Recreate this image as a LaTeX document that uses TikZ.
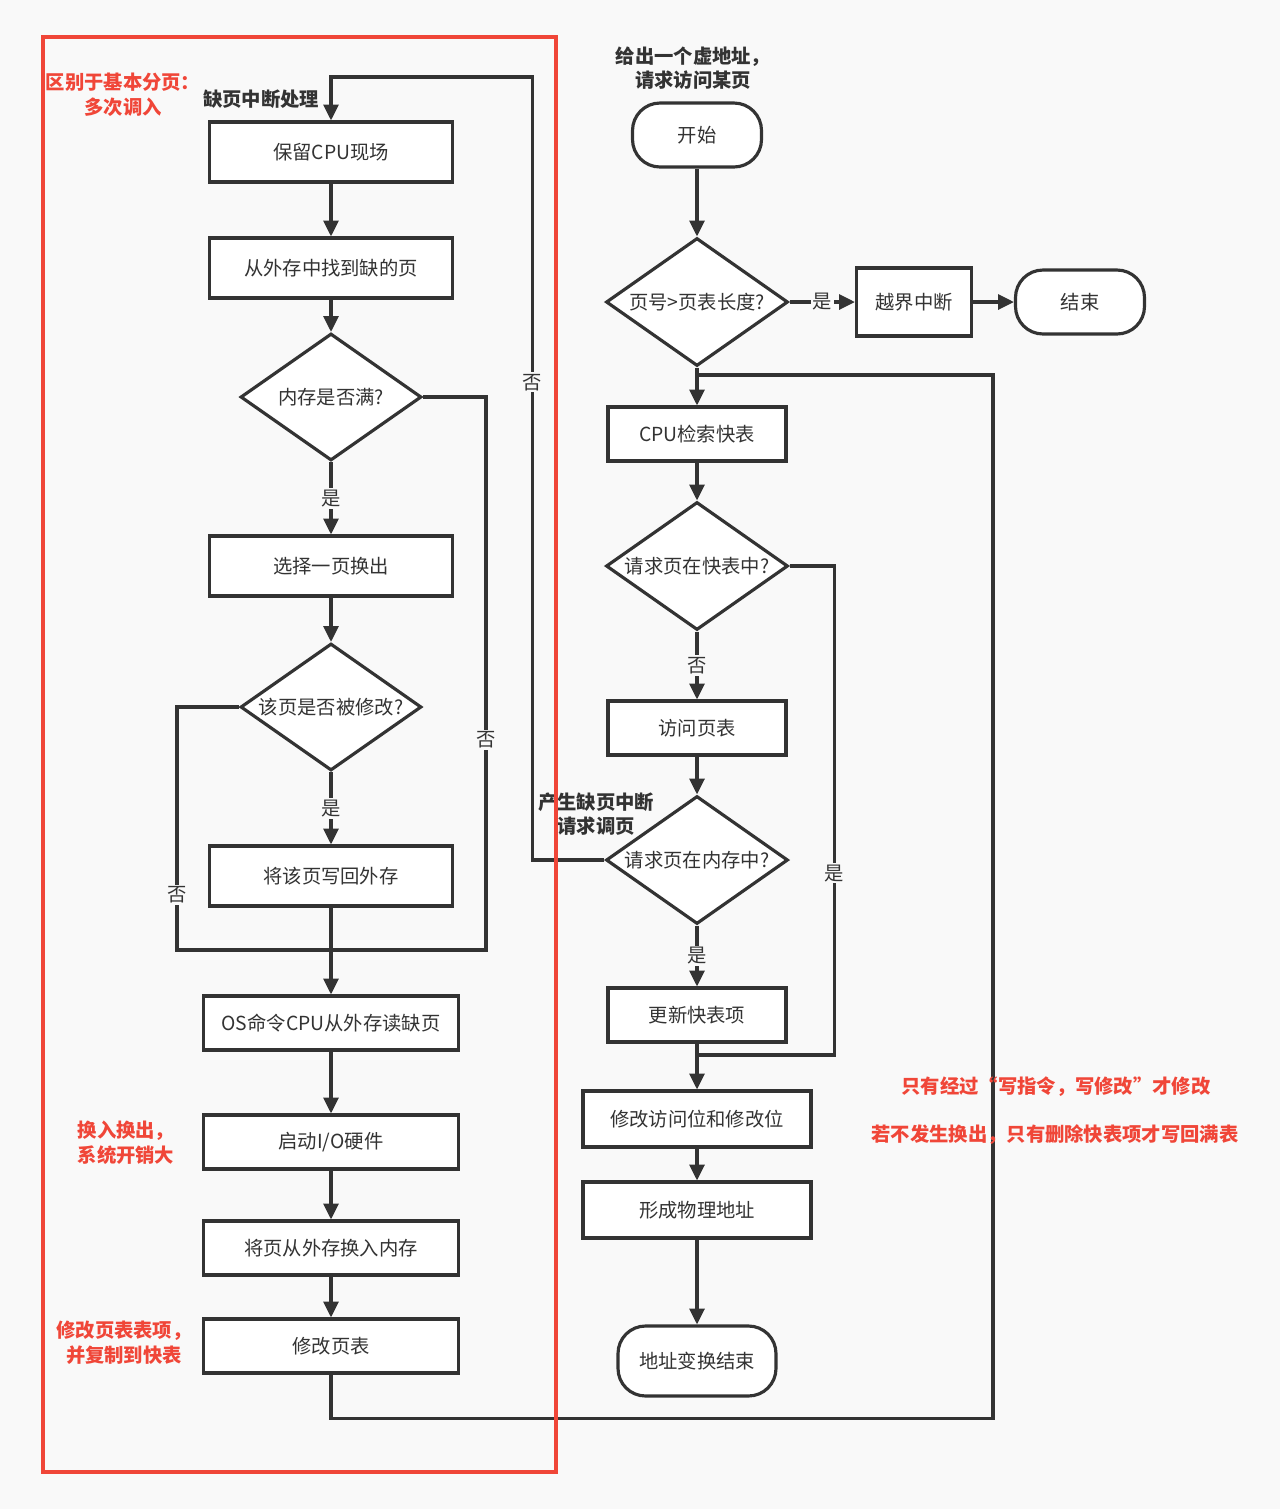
\documentclass[tikz,border=0pt]{standalone}
\usepackage{fontspec}
\setmainfont{Noto Sans CJK SC}
\usepackage{color}
\definecolor{myline}{RGB}{51,51,51}
\definecolor{myred}{RGB}{240,70,56}
\definecolor{mybg}{RGB}{249,249,249}
\usepackage{tikz}
\usetikzlibrary{shapes.geometric,arrows.meta,positioning,calc}
\tikzstyle{stepbox}=[draw=myline,fill=white,rectangle,line width=1.8pt,text=myline,inner sep=0pt,minimum width=4.86cm,minimum height=1.2cm]
\tikzstyle{widebox}=[stepbox,minimum width=5.1cm,minimum height=1.08cm]
\tikzstyle{rbox}=[stepbox,minimum width=3.56cm,minimum height=1.08cm]
\tikzstyle{choice}=[draw=myline,fill=white,diamond,line width=1.8pt,text=myline,inner sep=0pt,aspect=1.4,minimum width=3.62cm,minimum height=2.54cm]
\tikzstyle{terminal}=[draw=myline,fill=white,rectangle,rounded corners=0.55cm,line width=1.8pt,text=myline,minimum width=2.58cm,minimum height=1.28cm]
\tikzstyle{line}=[draw=myline,line width=1.8pt]
\tikzstyle{flow}=[line,-{Triangle[length=9pt,width=8.5pt]}]
\tikzstyle{linelabel}=[fill=mybg,text=myline,inner sep=1pt]
\tikzstyle{note}=[text=myred,font=\bfseries\fontsize{11}{14}\selectfont,align=center]
\tikzstyle{tag}=[text=myline,font=\bfseries\fontsize{11}{14}\selectfont,align=center]

\begin{document}
\begin{tikzpicture}[x=0.02cm,y=-0.02cm,font=\fontsize{11}{14}\selectfont]
\fill[mybg] (0,0) rectangle (1280,1509);
\useasboundingbox (0,0) rectangle (1280,1509);

% page fault handling
\node [stepbox] (keep) at (331,152) {保留CPU现场};
\node [stepbox] (find) at (331,268) {从外存中找到缺的页};
\node [choice] (full) at (331,397) {内存是否满?};
\node [stepbox] (pick) at (331,566) {选择一页换出};
\node [choice] (dirty) at (331,707) {该页是否被修改?};
\node [stepbox] (wback) at (331,876) {将该页写回外存};
\node [widebox] (osread) at (331,1023) {OS命令CPU从外存读缺页};
\node [widebox] (io) at (331,1142) {启动I/O硬件};
\node [widebox] (swapin) at (331,1248) {将页从外存换入内存};
\node [widebox] (modpt) at (331,1346) {修改页表};
\coordinate (mj) at (331,950);
\coordinate (topc) at (331,77);

% address translation
\node [terminal] (start) at (697,135) {开始};
\node [choice,minimum width=3.64cm,minimum height=2.56cm] (len) at (697,302) {页号>页表长度?};
\node [stepbox,minimum width=2.3cm,minimum height=1.36cm] (oob) at (914,302) {越界中断};
\node [terminal] (stop) at (1080,302) {结束};
\node [rbox] (cpu) at (697,434) {CPU检索快表};
\node [choice,minimum width=3.64cm,minimum height=2.56cm] (intlb) at (697,566) {请求页在快表中?};
\node [rbox] (pagetab) at (697,728) {访问页表};
\node [choice,minimum width=3.64cm,minimum height=2.56cm] (inmem) at (697,860) {请求页在内存中?};
\node [rbox] (update) at (697,1015) {更新快表项};
\node [stepbox,minimum width=4.56cm,minimum height=1.12cm] (modbit) at (697,1119) {修改访问位和修改位};
\node [stepbox,minimum width=4.56cm,minimum height=1.12cm] (phys) at (697,1210) {形成物理地址};
\node [terminal,minimum width=3.16cm,minimum height=1.4cm] (done) at (697,1361) {地址变换结束};
\coordinate (ret) at (993,375);
\coordinate (back) at (697,375);
\coordinate (upd) at (697,1055);

\draw [flow] (keep) -- (find);
\draw [flow] (find) -- (full);
\draw [flow] (full) -- node [linelabel] {是} (pick);
\draw [flow] (pick) -- (dirty);
\draw [flow] (dirty) -- node [linelabel] {是} (wback);
\draw [line] (full.east) -- ++(63,0) |- node [linelabel,pos=0.31] {否} (mj);
\draw [line] (dirty.west) -- ++(-62,0) |- node [linelabel,pos=0.387] {否} (mj);
\draw [line] (wback) -- (mj);
\draw [flow] (mj) -- (osread);
\draw [flow] (osread) -- (io);
\draw [flow] (io) -- (swapin);
\draw [flow] (swapin) -- (modpt);
\draw [line] (modpt.south) -- ++(0,44) -| (ret) -- (back);

\draw [flow] (start) -- (len);
\draw [flow] (len) -- node [linelabel] {是} (oob);
\draw [flow] (oob) -- (stop);
\draw [flow] (len) -- (cpu);
\draw [flow] (cpu) -- (intlb);
\draw [flow] (intlb) -- node [linelabel] {否} (pagetab);
\draw [flow] (pagetab) -- (inmem);
\draw [flow] (inmem) -- node [linelabel] {是} (update);
\draw [line] (intlb.east) -- ++(45,0) |- node [linelabel,pos=0.314] {是} (upd);
\draw [flow] (update) -- (modbit);
\draw [flow] (modbit) -- (phys);
\draw [flow] (phys) -- (done);
\draw [flow] (inmem.west) -- ++(-72,0) |- node [linelabel,pos=0.305] {否} (topc) -- (keep.north);

\node [tag] (given) at (693,68) {给出一个虚地址，\\请求访问某页};
\node [tag] (pf) at (261,99) {缺页中断处理};
\node [tag,inner sep=0pt] (raise) at (596,814) {产生缺页中断\\请求调页};

\draw [myred,line width=2.2pt] (43,37) rectangle (556,1472);
\node [note] (multi) at (123,95) {区别于基本分页：\\多次调入};
\node [note] (cost) at (126,1143) {换入换出，\\系统开销大};
\node [note] (copy) at (124,1343) {修改页表表项，\\并复制到快表};
\node [note] (wnote) at (1056,1087) {只有经过“写指令，写修改”才修改};
\node [note] (tnote) at (1055,1135) {若不发生换出，只有删除快表项才写回满表};
\end{tikzpicture}
\end{document}
